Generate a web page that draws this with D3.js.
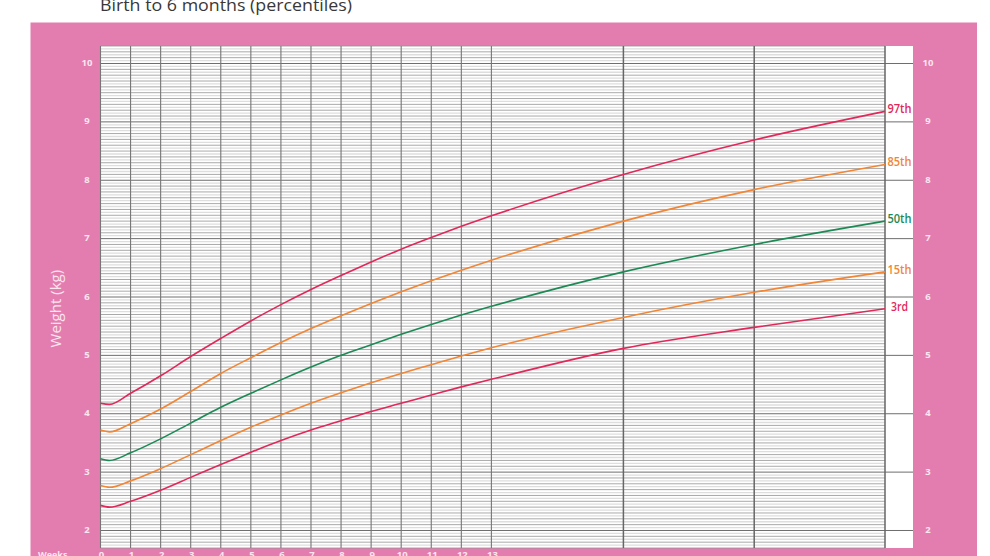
<!DOCTYPE html>
<html>
<head>
<meta charset="utf-8">
<script src="https://cdn.jsdelivr.net/npm/d3@7"></script>
<style>
  html, body { margin: 0; padding: 0; background: #ffffff; }
  svg { display: block; }
</style>
</head>
<body>
<svg id="chart" width="990" height="556"></svg>
<script>
// ---------- data ----------
const titleText = "Birth to 6 months (percentiles)";
const yAxisTitle = "Weight (kg)";
const weeksLabel = "Weeks";

// age of each curve point, in weeks (0–13 weekly, then 4, 5, 6 months)
const ageWeeks = [0, 0.3, 1, 2, 3, 4, 5, 6, 7, 8, 9, 10, 11, 12, 13, 17.39, 21.74, 26.09];

const p97 = [4.18, 4.16, 4.35, 4.65, 4.98, 5.29, 5.59, 5.87, 6.13, 6.37, 6.60, 6.82, 7.02, 7.21, 7.39, 8.10, 8.69, 9.18];
const p85 = [3.72, 3.69, 3.83, 4.08, 4.38, 4.69, 4.96, 5.22, 5.46, 5.68, 5.89, 6.09, 6.28, 6.46, 6.63, 7.30, 7.84, 8.27];
const p50 = [3.23, 3.20, 3.33, 3.57, 3.84, 4.11, 4.35, 4.58, 4.80, 5.00, 5.18, 5.36, 5.53, 5.69, 5.84, 6.43, 6.90, 7.30];
const p15 = [2.77, 2.74, 2.85, 3.06, 3.30, 3.54, 3.77, 3.98, 4.18, 4.36, 4.53, 4.69, 4.84, 4.99, 5.13, 5.65, 6.08, 6.43];
const p3  = [2.43, 2.40, 2.50, 2.69, 2.91, 3.13, 3.34, 3.54, 3.72, 3.88, 4.04, 4.18, 4.32, 4.46, 4.59, 5.12, 5.48, 5.80];

const seriesNames  = ["97th", "85th", "50th", "15th", "3rd"];
const seriesColors = ["#e0295a", "#f08636", "#1d8a55", "#f08636", "#e0295a"];

const weekTicks  = [0,1,2,3,4,5,6,7,8,9,10,11,12,13];
const monthLines = [17.39, 21.74, 26.09];   // 4, 5, 6 months in weeks
const yTicks     = [2,3,4,5,6,7,8,9,10];

// ---------- layout ----------
const svg = d3.select("#chart");
const W = 990, H = 556;
const pink = "#e47daf";
const labelWhite = "#fbe6f0";

const plot = { left: 100.5, right: 885, top: 46, bottom: 548, stripRight: 913 };

const x = d3.scaleLinear().domain([0, 26.09]).range([plot.left, plot.right]);
const y = d3.scaleLinear().domain([1.7, 10.3]).range([plot.bottom, plot.top]);

// title
svg.append("text")
  .attr("x", 100).attr("y", 10.5)
  .attr("font-family", "'Open Sans', sans-serif")
  .attr("font-size", 17)
  .attr("font-weight", 400)
  .attr("fill", "#383838")
  .attr("textLength", 252)
  .attr("lengthAdjust", "spacingAndGlyphs")
  .text(titleText);

// pink panel
svg.append("rect")
  .attr("x", 30.5).attr("y", 22.5)
  .attr("width", 946.5).attr("height", H - 22)
  .attr("fill", pink);

// white plotting area (incl. label strip)
svg.append("rect")
  .attr("x", plot.left - 0.5).attr("y", plot.top)
  .attr("width", plot.stripRight - plot.left + 0.5)
  .attr("height", plot.bottom - plot.top)
  .attr("fill", "#ffffff");

const grid = svg.append("g");

const tenthSteps = d3.range(17, 104).map(i => i / 10);        // 0.1 lines
const midSteps   = d3.range(17, 103).map(i => i / 10 + 0.05); // 0.05 lines

grid.selectAll("line.mid").data(midSteps).join("line")
  .attr("class", "mid")
  .attr("x1", x(0)).attr("x2", x(26.09))
  .attr("y1", d => y(d)).attr("y2", d => y(d))
  .attr("stroke", "#dedede").attr("stroke-width", 1.3);

grid.selectAll("line.minor").data(tenthSteps.filter(d => Math.abs(d - Math.round(d)) > 1e-6)).join("line")
  .attr("class", "minor")
  .attr("x1", x(0)).attr("x2", x(26.09))
  .attr("y1", d => y(d)).attr("y2", d => y(d))
  .attr("stroke", "#939393").attr("stroke-width", 0.8);

// integer lines, extended through label strip
grid.selectAll("line.major").data(yTicks).join("line")
  .attr("class", "major")
  .attr("x1", x(0)).attr("x2", plot.stripRight)
  .attr("y1", d => y(d)).attr("y2", d => y(d))
  .attr("stroke", "#6e6e6e").attr("stroke-width", 1);

// vertical week lines
grid.selectAll("line.week").data(weekTicks).join("line")
  .attr("class", "week")
  .attr("x1", d => x(d)).attr("x2", d => x(d))
  .attr("y1", plot.top).attr("y2", plot.bottom)
  .attr("stroke", "#767676").attr("stroke-width", 1.1);

// vertical month lines
grid.selectAll("line.month").data(monthLines).join("line")
  .attr("class", "month")
  .attr("x1", d => x(d)).attr("x2", d => x(d))
  .attr("y1", plot.top).attr("y2", plot.bottom)
  .attr("stroke", "#666").attr("stroke-width", 1.5);

// curves
const allSeries = [p97, p85, p50, p15, p3];
const line = d3.line()
  .x((d, i) => x(ageWeeks[i]))
  .y(d => y(d))
  .curve(d3.curveMonotoneX);

svg.append("g").selectAll("path").data(allSeries).join("path")
  .attr("d", d => line(d))
  .attr("fill", "none")
  .attr("stroke", (d, i) => seriesColors[i])
  .attr("stroke-width", 1.6);

// percentile labels in the strip
svg.append("g").selectAll("text").data(allSeries).join("text")
  .attr("x", (plot.right + plot.stripRight) / 2 + 0.5)
  .attr("y", d => y(d[d.length - 1]) - 1.5)
  .attr("text-anchor", "middle")
  .attr("dominant-baseline", "middle")
  .attr("font-family", "'Open Sans', sans-serif")
  .attr("font-weight", 600)
  .attr("font-size", 13)
  .attr("fill", (d, i) => seriesColors[i])
  .attr("textLength", (d, i) => seriesNames[i].length === 3 ? 17 : 24)
  .attr("lengthAdjust", "spacingAndGlyphs")
  .text((d, i) => seriesNames[i]);

// y tick labels both sides
const tickStyle = sel => sel
  .attr("font-family", "'Open Sans', sans-serif")
  .attr("font-weight", "bold")
  .attr("font-size", 9.5)
  .attr("fill", labelWhite)
  .attr("text-anchor", "middle")
  .attr("dominant-baseline", "middle");

svg.append("g").selectAll("text").data(yTicks).join("text")
  .attr("x", 87).attr("y", d => y(d))
  .call(tickStyle)
  .text(d => d);

svg.append("g").selectAll("text").data(yTicks).join("text")
  .attr("x", 928).attr("y", d => y(d))
  .call(tickStyle)
  .text(d => d);

// y axis title
svg.append("text")
  .attr("transform", `translate(60.5, ${y(5.8)}) rotate(-90)`)
  .attr("text-anchor", "middle")
  .attr("font-family", "'Open Sans', sans-serif")
  .attr("font-size", 15)
  .attr("fill", labelWhite)
  .text(yAxisTitle);

// week labels at bottom
svg.append("g").selectAll("text").data(weekTicks).join("text")
  .attr("x", d => x(d) + 1)
  .attr("y", 558)
  .attr("text-anchor", "middle")
  .attr("font-family", "'Open Sans', sans-serif")
  .attr("font-weight", "bold")
  .attr("font-size", 9.5)
  .attr("fill", labelWhite)
  .text(d => d);

svg.append("text")
  .attr("x", 38).attr("y", 558)
  .attr("font-family", "'Open Sans', sans-serif")
  .attr("font-weight", "bold")
  .attr("font-size", 9)
  .attr("fill", labelWhite)
  .text(weeksLabel);
</script>
</body>
</html>
